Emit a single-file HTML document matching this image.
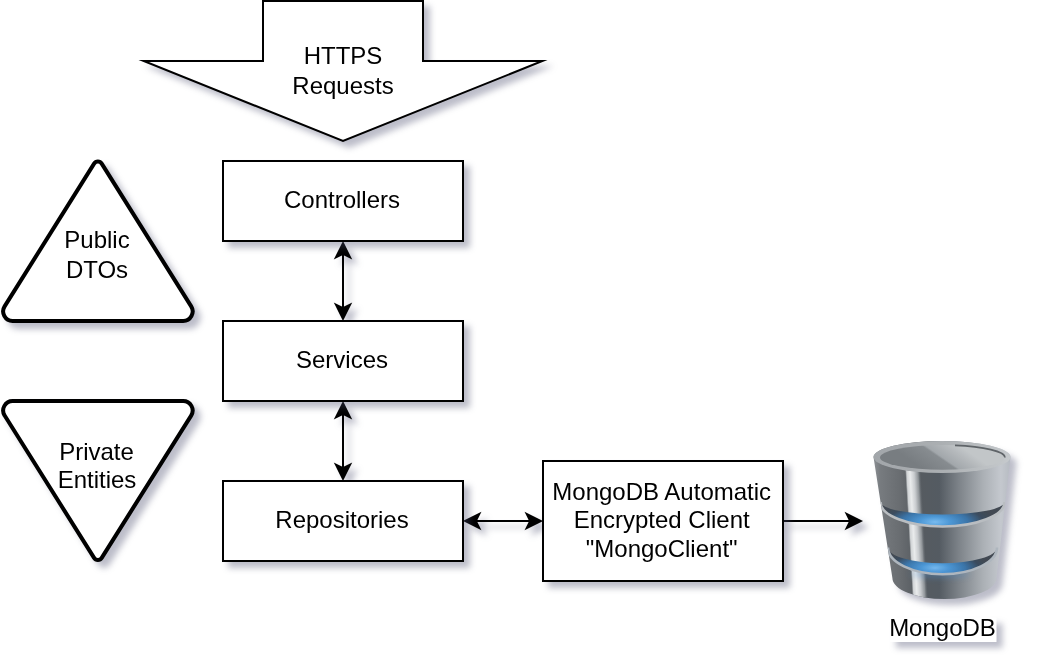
<!DOCTYPE html>
<html><head><meta charset="utf-8"><title>diagram</title>
<style>
html,body{margin:0;padding:0;background:#ffffff;}
body{width:1044px;height:666px;overflow:hidden;position:relative;}
svg{position:absolute;left:0;top:0;display:block;}
text{font-family:"Liberation Sans",sans-serif;font-size:24px;fill:#000;text-anchor:middle;}
</style></head><body>
<svg width="1044" height="666" viewBox="0 0 1044 666">
<defs>
<filter id="sh" x="-50%" y="-50%" width="200%" height="200%" color-interpolation-filters="sRGB">
<feGaussianBlur in="SourceAlpha" stdDeviation="3.4" result="b"/>
<feOffset in="b" dx="6" dy="6" result="o"/>
<feFlood flood-color="#45496a" flood-opacity="0.36"/>
<feComposite in2="o" operator="in" result="s"/>
<feMerge><feMergeNode in="s"/><feMergeNode in="SourceGraphic"/></feMerge>
</filter>
</defs>
<g filter="url(#sh)">
<path d="M263 1 L423 1 L423 61 L542.4 61 L343 141 L143.7 61 L263 61 Z" fill="#fff" stroke="#000" stroke-width="2" stroke-miterlimit="10"/>
</g>
<g filter="url(#sh)" fill="#fff" stroke="#000" stroke-width="4">
<path d="M94.09 163.58 A4.5 4.5 0 0 1 101.71 163.58 L191.19 306.36 A9.5 9.5 0 0 1 183.14 320.9 L12.66 320.9 A9.5 9.5 0 0 1 4.61 306.36 Z"/>
<path d="M4.65 415.56 A9.5 9.5 0 0 1 12.69 401 L183.11 401 A9.5 9.5 0 0 1 191.15 415.56 L101.71 557.84 A4.5 4.5 0 0 1 94.09 557.84 Z"/>
</g>
<g filter="url(#sh)" fill="#000" stroke="#000" stroke-width="2" stroke-miterlimit="10">
<path fill="none" d="M343 253.74 L343 308.26"/><path d="M343 318.76 L336 304.76 L343 308.26 L350 304.76 Z"/><path d="M343 243.24 L350 257.24 L343 253.74 L336 257.24 Z"/><path fill="none" d="M343 413.74 L343 468.26"/><path d="M343 478.76 L336 464.76 L343 468.26 L350 464.76 Z"/><path d="M343 403.24 L350 417.24 L343 413.74 L336 417.24 Z"/><path fill="none" d="M475.74 521 L530.26 521"/><path d="M540.76 521 L526.76 528 L530.26 521 L526.76 514 Z"/><path d="M465.24 521 L479.24 514 L475.74 521 L479.24 528 Z"/><path fill="none" d="M783 521 L850.26 521"/><path d="M860.76 521 L846.76 528 L850.26 521 L846.76 514 Z"/>
</g>
<g filter="url(#sh)" fill="#fff" stroke="#000" stroke-width="2">
<rect x="223" y="161" width="240" height="80"/>
<rect x="223" y="321" width="240" height="80"/>
<rect x="223" y="481" width="240" height="80"/>
<rect x="543" y="461" width="240" height="120"/>
</g>
<defs>
<linearGradient id="bodyG" x1="873.5" y1="0" x2="1010.5" y2="0" gradientUnits="userSpaceOnUse">
<stop offset="0" stop-color="#8c9094"/>
<stop offset="0.05" stop-color="#777b7f"/>
<stop offset="0.2" stop-color="#686c70"/>
<stop offset="0.32" stop-color="#565b60"/>
<stop offset="0.48" stop-color="#545b62"/>
<stop offset="0.62" stop-color="#7c8288"/>
<stop offset="0.8" stop-color="#abb0b5"/>
<stop offset="0.93" stop-color="#c4c8ce"/>
<stop offset="1" stop-color="#b6bbc2"/>
</linearGradient>
<linearGradient id="hiG" x1="904.5" y1="0" x2="920.5" y2="0" gradientUnits="userSpaceOnUse">
<stop offset="0" stop-color="#c8cbce" stop-opacity="0"/>
<stop offset="0.1" stop-color="#d0d3d5"/>
<stop offset="0.3" stop-color="#e9ebec"/>
<stop offset="0.55" stop-color="#c9cccf"/>
<stop offset="0.8" stop-color="#8e9397"/>
<stop offset="1" stop-color="#5a6066" stop-opacity="0"/>
</linearGradient>
<linearGradient id="gapG" x1="880" y1="0" x2="1005" y2="0" gradientUnits="userSpaceOnUse">
<stop offset="0" stop-color="#5b636c"/>
<stop offset="0.15" stop-color="#4f6579"/>
<stop offset="0.28" stop-color="#3a78ad"/>
<stop offset="0.45" stop-color="#5b9fd6"/>
<stop offset="0.58" stop-color="#3f84bd"/>
<stop offset="0.72" stop-color="#35587a"/>
<stop offset="0.86" stop-color="#363f4a"/>
<stop offset="1" stop-color="#3e454e"/>
</linearGradient>
<linearGradient id="rimG" x1="873.5" y1="0" x2="1010.5" y2="0" gradientUnits="userSpaceOnUse">
<stop offset="0" stop-color="#a2a6aa"/>
<stop offset="0.5" stop-color="#abafb2"/>
<stop offset="1" stop-color="#c6cacd"/>
</linearGradient>
<linearGradient id="innerG" x1="930.7" y1="474.5" x2="953.3" y2="441.5" gradientUnits="userSpaceOnUse">
<stop offset="0" stop-color="#787d81"/>
<stop offset="0.47" stop-color="#878c90"/>
<stop offset="0.52" stop-color="#a2a7ab"/>
<stop offset="0.8" stop-color="#b4b8bb"/>
<stop offset="1" stop-color="#c2c6c8"/>
</linearGradient>
<radialGradient id="gap1R" cx="935" cy="522" r="60" gradientUnits="userSpaceOnUse" gradientTransform="matrix(1 0 0 0.35 0 339.3)">
<stop offset="0" stop-color="#78bbef"/>
<stop offset="0.25" stop-color="#4d98d6"/>
<stop offset="0.55" stop-color="#3a74a8"/>
<stop offset="0.8" stop-color="#3a4c5e"/>
<stop offset="1" stop-color="#434a52"/>
</radialGradient>
<radialGradient id="gap2R" cx="935" cy="568" r="55" gradientUnits="userSpaceOnUse" gradientTransform="matrix(1 0 0 0.35 0 369.2)">
<stop offset="0" stop-color="#78bbef"/>
<stop offset="0.25" stop-color="#4d98d6"/>
<stop offset="0.55" stop-color="#3a74a8"/>
<stop offset="0.8" stop-color="#3a4c5e"/>
<stop offset="1" stop-color="#434a52"/>
</radialGradient>
<filter id="glow" x="-50%" y="-100%" width="200%" height="300%"><feGaussianBlur stdDeviation="3"/></filter>
<filter id="soft" x="-10%" y="-50%" width="120%" height="200%"><feGaussianBlur stdDeviation="0.7"/></filter>
<clipPath id="bodyClip"><path d="M873.5 457 L892.4 578 A52 21 0 0 0 996.5 578 L1010.5 457 A68.5 16 0 0 0 873.5 457 Z"/></clipPath>
</defs>
<g filter="url(#sh)">
<path d="M873.5 457 L892.4 578 A52 21 0 0 0 996.5 578 L1010.5 457 A68.5 16 0 0 0 873.5 457 Z" fill="url(#bodyG)"/>
<g clip-path="url(#bodyClip)">
<rect x="904.5" y="455" width="16" height="150" fill="url(#hiG)" transform="matrix(1 0 0.0571 1 -26.3 0)"/>
<g filter="url(#soft)">
<path d="M880.5 502 A62 12.5 0 0 0 1004.5 502 A62 24.5 0 0 1 880.5 502 Z" fill="url(#gap1R)"/>
<path d="M888 547.5 A52 15 0 0 0 997 547.5 A52 25.5 0 0 1 888 547.5 Z" fill="url(#gap2R)"/>
</g>
<path d="M880.5 502 A62 24.5 0 0 0 1004.5 502" fill="none" stroke="#b9bdc1" stroke-width="2.6"/>
<ellipse cx="940" cy="574" rx="30" ry="3.5" fill="#4b8fd0" opacity="0.4" filter="url(#glow)"/>
<path d="M888 547.5 A52 25.5 0 0 0 997 547.5" fill="none" stroke="#aeb6be" stroke-width="2.6"/>
</g>
<ellipse cx="942" cy="457" rx="68.5" ry="16" fill="url(#rimG)"/>
<ellipse cx="942.5" cy="457.4" rx="62.5" ry="12.3" fill="url(#innerG)"/>
<path d="M955 445.4 A62.5 12.3 0 0 1 1005 457.4" fill="none" stroke="#5f6468" stroke-width="1.6"/>
</g>

<g filter="url(#sh)"><rect x="890" y="617.5" width="106.5" height="24.5" fill="#fff"/></g>
<g style="will-change:transform"><text x="343" y="63.9">HTTPS</text><text x="343" y="93.6">Requests</text><text x="342" y="207.5">Controllers</text><text x="97" y="247.9">Public</text><text x="97" y="277.9">DTOs</text><text x="342" y="367.7">Services</text><text x="96.5" y="459.7">Private</text><text x="97" y="487.6">Entities</text><text x="342" y="527.8">Repositories</text><text x="661.7" y="499.9">MongoDB Automatic</text><text x="661.7" y="528.3">Encrypted Client</text><text x="661.7" y="557.2">&quot;MongoClient&quot;</text><text x="942.5" y="635.5">MongoDB</text></g>
</svg>
</body></html>
